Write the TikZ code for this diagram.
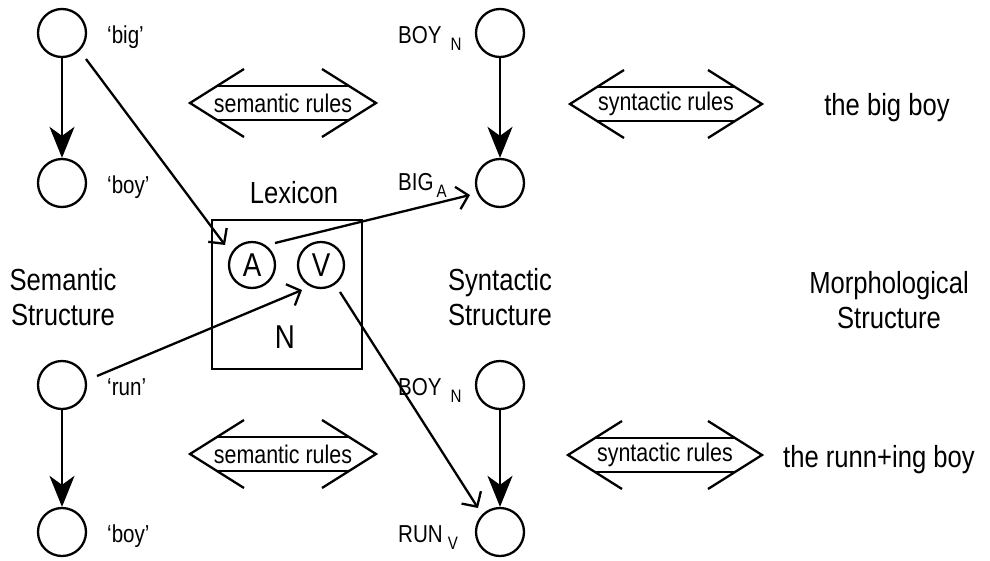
\documentclass[tikz,border=0pt]{standalone}
\usepackage{fontspec}
\setmainfont{Liberation Sans}[FakeStretch=0.84]
\usetikzlibrary{arrows.meta}
\newcommand\fz[2]{\fontsize{#1}{#2}\selectfont}
\newcommand\rulearrow[5]{%
  % #1 name, #2 centre x, #3 y, #4 half length, #5 text
  \node[ruletext] (#1) at (#2,#3) {#5};
  \draw[ruleline] (#2-#4+54,#3-34) -- (#2-#4,#3) -- (#2-#4+54,#3+34);
  \draw[ruleline] (#2+#4-54,#3-34) -- (#2+#4,#3) -- (#2+#4-54,#3+34);
  \draw[ruleline] (#2-#4+27,#3-17) -- (#2+#4-27,#3-17);
  \draw[ruleline] (#2-#4+27,#3+17) -- (#2+#4-27,#3+17);
}
\newcommand\sub[1]{\raisebox{-7pt}{\fz{18}{18}#1}}
\begin{document}
\begin{tikzpicture}[x=1pt,y=-1pt,
  circ/.style={circle,draw,line width=2.3pt,minimum size=48pt,inner sep=0pt},
  lexcirc/.style={circle,draw,line width=2.3pt,minimum size=46pt,inner sep=0pt,font=\fz{33}{33}},
  big/.style={inner sep=0pt,font=\fz{30.5}{35},align=center},
  lab/.style={inner sep=0pt,font=\fz{24.5}{24.5}},
  ruletext/.style={inner sep=0pt,font=\fz{25.5}{25.5}},
  ruleline/.style={line width=2.3pt},
  down/.style={line width=2.3pt,-{Stealth[length=31pt,width=25pt,inset=9pt]}},
  open/.style={line width=2.3pt,-{Straight Barb[length=11pt,width=23pt]}}]
\useasboundingbox (0,0) rectangle (990,560);

% semantic column
\node[circ] (sb1) at (62,33) {};
\node[circ] (sb2) at (62,183) {};
\node[circ] (sb3) at (62,385) {};
\node[circ] (sb4) at (62,532) {};
\node[lab,anchor=base west] (lbig) at (107,43) {‘big’};
\node[lab,anchor=base west] (lboy1) at (107,193) {‘boy’};
\node[lab,anchor=base west] (lrun) at (107,395) {‘run’};
\node[lab,anchor=base west] (lboy2) at (107,542) {‘boy’};
\draw[down] (sb1) -- (sb2);
\draw[down] (sb3) -- (sb4);

% syntactic column
\node[circ] (sy1) at (500,33) {};
\node[circ] (sy2) at (500,183) {};
\node[circ] (sy3) at (500,385) {};
\node[circ] (sy4) at (500,532) {};
\node[lab,anchor=base west] (lBOY1) at (398,43) {BOY\hspace{9pt}\sub{N}};
\node[lab,anchor=base west] (lBIG) at (398,190) {BIG\hspace{3pt}\sub{A}};
\node[lab,anchor=base west] (lBOY2) at (398,395) {BOY\hspace{9pt}\sub{N}};
\node[lab,anchor=base west] (lRUN) at (398,542) {RUN\hspace{5pt}\sub{V}};
\draw[down] (sy1) -- (sy2);
\draw[down] (sy3) -- (sy4);

% structure labels
\node[big] (semstr) at (63,297) {Semantic\\Structure};
\node[big] (synstr) at (500,297) {Syntactic\\Structure};
\node[big] (morstr) at (889,300) {Morphological\\Structure};
\node[big,anchor=base] (out1) at (887,115) {the big boy};
\node[big,anchor=base] (out2) at (879,467) {the runn+ing boy};

% lexicon
\node[big,anchor=base] (lexlab) at (294,203) {Lexicon};
\node[draw,line width=2.3pt,minimum width=150pt,minimum height=149pt,inner sep=0pt] (lexbox) at (287,294.5) {};
\node[lexcirc] (A) at (252,265) {A};
\node[lexcirc] (V) at (321,265) {V};
\node[inner sep=0pt,font=\fz{33}{33}] (N) at (285,337) {N};

% rule arrows
\rulearrow{sem1}{283}{103}{93}{semantic rules}
\rulearrow{sem2}{283}{454}{93}{semantic rules}
\rulearrow{syn1}{666}{104}{96}{syntactic rules}
\rulearrow{syn2}{665}{455}{97}{syntactic rules}

% lexical links
\coordinate (a1s) at ([shift={(24,26)}]sb1.center);
\coordinate (a1e) at ([shift={(-27,-20)}]A.center);
\coordinate (a2s) at ([shift={(23,-22)}]A.center);
\coordinate (a2e) at ([shift={(-30,12)}]sy2.center);
\coordinate (a3s) at ([shift={(35,-9)}]sb3.center);
\coordinate (a3e) at ([shift={(-19,25)}]V.center);
\coordinate (a4s) at ([shift={(19,27)}]V.center);
\coordinate (a4e) at ([shift={(-22,-24)}]sy4.center);
\draw[open] (a1s) -- (a1e);
\draw[open] (a2s) -- (a2e);
\draw[open] (a3s) -- (a3e);
\draw[open] (a4s) -- (a4e);
\end{tikzpicture}
\end{document}
